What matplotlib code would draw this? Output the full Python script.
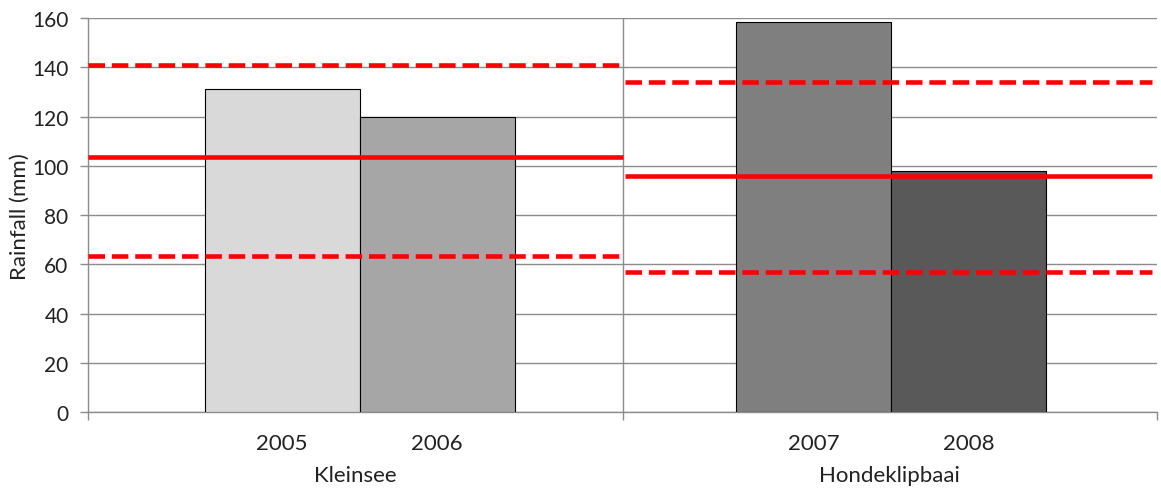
import matplotlib
matplotlib.use("Agg")
import matplotlib.pyplot as plt
from matplotlib.transforms import blended_transform_factory

plt.rcParams['font.family'] = ['Lato', 'DejaVu Sans']

# ---- data ----
groups = ["Kleinsee", "Hondeklipbaai"]
years = [["2005", "2006"], ["2007", "2008"]]
rainfall = [[131, 120], [158.5, 97.8]]
bar_colors = [["#d9d9d9", "#a6a6a6"], ["#7f7f7f", "#595959"]]
group_mean = [103.7, 95.7]
group_upper = [141.0, 134.2]
group_lower = [63.5, 56.7]
yticks = [0, 20, 40, 60, 80, 100, 120, 140, 160]

fig = plt.figure(figsize=(11.61, 4.89), dpi=100)
ax = fig.add_axes([0.0758, 0.1554, 0.9208, 0.8057])

bar_w = 0.29
label_pos, label_txt = [], []
for gi, g in enumerate(groups):
    center = gi + 0.5 + (0.008 if gi == 0 else 0.003)
    for bi, (yr, val) in enumerate(zip(years[gi], rainfall[gi])):
        x = center + (bi - 0.5) * bar_w
        ax.bar(x, val, width=bar_w, color=bar_colors[gi][bi],
               edgecolor="black", linewidth=0.8, zorder=3)
        label_pos.append(x)
        label_txt.append(yr)
    # red lines
    x0, x1 = gi + (0.004 if gi else 0), gi + (0.99 if gi else 1.0)
    ax.hlines(group_mean[gi], x0, x1, color="#ff0000", linewidth=3.3, zorder=4)
    for v in (group_upper[gi], group_lower[gi]):
        ax.hlines(v, x0, x1, color="#ff0000", linewidth=3.3,
                  linestyles=(0, (3.6, 1.5)), zorder=4)

ax.set_xlim(0, len(groups))
ax.set_ylim(0, 160)
ax.set_yticks(yticks)
ax.yaxis.grid(True, color="#8c8c8c", linewidth=1.0, zorder=0)
ax.set_axisbelow(True)

# divider between groups
for gi in range(1, len(groups)):
    ax.axvline(gi, color="#8c8c8c", linewidth=1.0, zorder=1)

for s in ("top", "right"):
    ax.spines[s].set_visible(False)
for s in ("left", "bottom"):
    ax.spines[s].set_color("#8c8c8c")
    ax.spines[s].set_linewidth(1.0)

ax.tick_params(axis="y", length=6, width=1, color="#8c8c8c", pad=8,
               labelsize=15, labelcolor="#222222")
ax.set_xticks(range(len(groups) + 1))
ax.set_xticklabels([])
ax.tick_params(axis="x", which="major", length=6, width=1, color="#8c8c8c")
ax.set_xticks(label_pos, minor=True)
ax.set_xticklabels(label_txt, minor=True)
ax.tick_params(axis="x", which="minor", length=0, pad=15, labelsize=16,
               labelcolor="#222222")

trans = blended_transform_factory(ax.transData, fig.transFigure)
for gi, g in enumerate(groups):
    ax.text(gi + 0.5, 1 - 476 / 489, g, transform=trans, ha="center",
            va="center", fontsize=16, color="#222222")

fig.text(20 / 1161, 1 - 217 / 489, "Rainfall (mm)", rotation=90,
         ha="center", va="center", fontsize=16, color="#222222")

fig.savefig("out.png", dpi=100)
